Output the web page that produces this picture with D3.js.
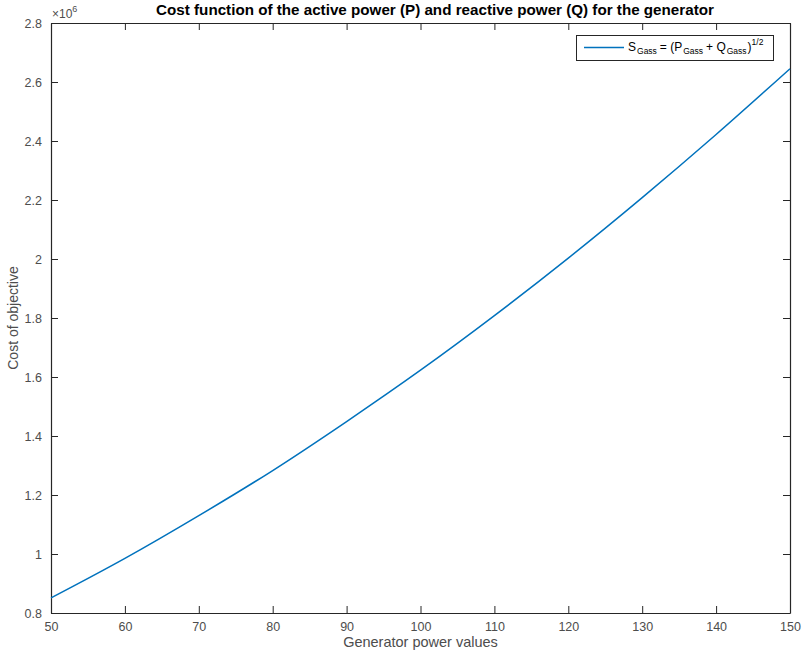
<!DOCTYPE html>
<html>
<head>
<meta charset="utf-8">
<script src="https://cdn.jsdelivr.net/npm/d3@7"></script>
<style>
  html, body { margin: 0; padding: 0; background: #fff; }
  svg { display: block; font-family: "Liberation Sans", Arial, Helvetica, sans-serif; }
</style>
</head>
<body>
<svg id="chart" width="803" height="654"></svg>
<script>
// Generator power (x) and objective cost (in units of 1e6)
const powerValues = [50, 60, 70, 80, 90, 100, 110, 120, 130, 140, 150];
const costValues = [0.851, 0.985, 1.130, 1.283, 1.449, 1.623, 1.808, 2.003, 2.208, 2.422, 2.645];
const xTicks = [50, 60, 70, 80, 90, 100, 110, 120, 130, 140, 150];
const yTicks = [0.8, 1, 1.2, 1.4, 1.6, 1.8, 2, 2.2, 2.4, 2.6, 2.8];

const svg = d3.select("#chart");
const plotLeft = 51, plotRight = 790, plotTop = 23, plotBottom = 613;
const axisColor = "#262626";
const tickColor = "#4d4d4d";

const x = d3.scaleLinear().domain([50, 150]).range([plotLeft, plotRight]);
const y = d3.scaleLinear().domain([0.8, 2.8]).range([plotBottom, plotTop]);

// Box with inward ticks on all sides
const tickLen = 7;
const g = svg.append("g");

g.append("g").attr("transform", `translate(0,${plotBottom})`)
  .call(d3.axisBottom(x).tickValues(xTicks).tickSizeInner(-tickLen).tickSizeOuter(0).tickPadding(9).tickFormat(d3.format("d")));
g.append("g").attr("transform", `translate(${plotLeft},0)`)
  .call(d3.axisLeft(y).tickValues(yTicks).tickSizeInner(-tickLen).tickSizeOuter(0).tickPadding(9).tickFormat(d => d3.format("~g")(d)));
g.append("g").attr("transform", `translate(0,${plotTop})`)
  .call(d3.axisTop(x).tickValues(xTicks).tickSizeInner(-tickLen).tickSizeOuter(0).tickFormat(""));
g.append("g").attr("transform", `translate(${plotRight},0)`)
  .call(d3.axisRight(y).tickValues(yTicks).tickSizeInner(-tickLen).tickSizeOuter(0).tickFormat(""));

g.selectAll(".domain").attr("stroke", axisColor).attr("stroke-width", 1.2);
g.selectAll(".tick line").attr("stroke", axisColor).attr("stroke-width", 1);
g.selectAll(".tick text").attr("fill", tickColor).attr("font-size", 12.5)
  .attr("font-family", "Liberation Sans, Arial, sans-serif");

// Exponent marker
const expo = svg.append("text").attr("x", plotLeft + 1).attr("y", 18).attr("fill", tickColor).attr("font-size", 12);
expo.append("tspan").text("\u00d710");
expo.append("tspan").attr("dy", -6).attr("font-size", 9).text("6");

// Cost curve
const line = d3.line()
  .x((d, i) => x(powerValues[i]))
  .y(d => y(d))
  .curve(d3.curveMonotoneX);

svg.append("path")
  .datum(costValues)
  .attr("fill", "none")
  .attr("stroke", "#0072BD")
  .attr("stroke-width", 1.5)
  .attr("d", line);

// Title and axis labels
svg.append("text").attr("x", 435).attr("y", 15)
  .attr("text-anchor", "middle").attr("font-weight", "bold").attr("font-size", 15.2)
  .attr("fill", "#000")
  .text("Cost function of the active power (P) and reactive power (Q) for the generator");

svg.append("text").attr("x", (plotLeft + plotRight) / 2).attr("y", 647)
  .attr("text-anchor", "middle").attr("font-size", 14.5).attr("fill", tickColor)
  .text("Generator power values");

svg.append("text").attr("transform", `translate(18,${(plotTop + plotBottom) / 2}) rotate(-90)`)
  .attr("text-anchor", "middle").attr("font-size", 14).attr("fill", tickColor)
  .text("Cost of objective");

// Legend
const lg = svg.append("g");
lg.append("rect").attr("x", 576.5).attr("y", 35.5).attr("width", 197).attr("height", 25)
  .attr("fill", "#fff").attr("stroke", axisColor).attr("stroke-width", 1);
lg.append("line").attr("x1", 584).attr("x2", 624).attr("y1", 47.5).attr("y2", 47.5)
  .attr("stroke", "#0072BD").attr("stroke-width", 1.5);
const lt = lg.append("text").attr("x", 628).attr("y", 51).attr("font-size", 12).attr("fill", "#000");
lt.append("tspan").text("S");
lt.append("tspan").attr("dy", 3).attr("dx", 1).attr("font-size", 8.5).text("Gass");
lt.append("tspan").attr("dy", -3).attr("dx", 3).text("= (P");
lt.append("tspan").attr("dy", 3).attr("dx", 1).attr("font-size", 8.5).text("Gass");
lt.append("tspan").attr("dy", -3).attr("dx", 3).text("+ Q");
lt.append("tspan").attr("dy", 3).attr("dx", 1).attr("font-size", 8.5).text("Gass");
lt.append("tspan").attr("dy", -3).attr("dx", 1).text(")");
lt.append("tspan").attr("dy", -6).attr("font-size", 8.5).text("1/2");
</script>
</body>
</html>
